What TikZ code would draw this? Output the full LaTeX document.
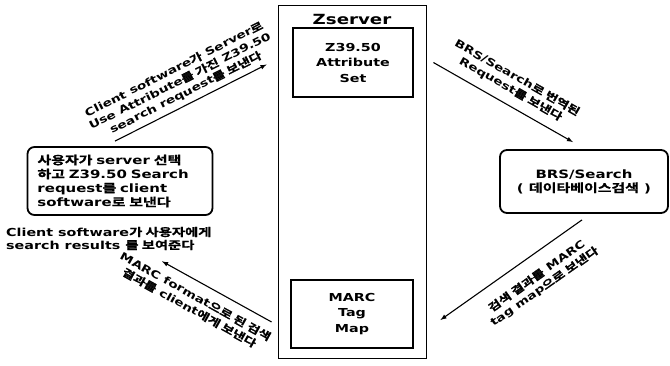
\documentclass[tikz,border=0pt]{standalone}
\usepackage{fontspec}
\setmainfont{DejaVu Sans}[FakeStretch=1.3]
\newfontfamily\krfont{Noto Sans CJK KR}[BoldFont={Noto Sans CJK KR Bold}, BoldFeatures={FakeBold=1.2}, FakeStretch=1.3]
\newcommand{\kr}[1]{{\krfont #1}}
\usetikzlibrary{arrows,calc}

\begin{document}
\begin{tikzpicture}[x=1pt, y=1pt,
    cadre/.style={draw, line width=1.5pt, align=center, inner sep=0pt, font=\bfseries\fontsize{11}{15.5}\selectfont},
    boite/.style={draw, line width=1.8pt, rounded corners=7pt, font=\bfseries\fontsize{11.5}{14}\selectfont},
    fleche/.style={-latex, line width=1.1pt},
    legende/.style={sloped, align=center, inner sep=1pt, font=\bfseries\fontsize{10.5}{13}\selectfont}]
    \useasboundingbox (0,0) rectangle (670,365);
    % Zserver
    \node[draw, line width=0.8pt, minimum width=148pt, minimum height=353pt] at (352,183.5) (zserver) {};
    \node[font=\bfseries\fontsize{14}{16}\selectfont] at (352,346) (titre) {Zserver};
    \node[cadre, minimum width=120pt, minimum height=69pt] at (353,302.5) (attribut) {Z39.50\\Attribute\\Set};
    \node[cadre, minimum width=122pt, minimum height=68pt] at (352,51) (tagmap) {MARC\\Tag\\Map};
    % Client et BRS/Search
    \node[boite, text width=165pt, inner xsep=10pt, minimum height=68pt, align=left] at (120,184) (client)
        {\kr{사용자가} server \kr{선택}\\\kr{하고} Z39.50 Search\\request\kr{를} client\\software\kr{로 보낸다}};
    \node[boite, minimum width=168pt, minimum height=63pt, align=center] at (584,183.5) (brs)
        {BRS/Search\\( \kr{데이타베이스검색} )};
    \node[font=\bfseries\fontsize{11}{13}\selectfont, align=left, anchor=west, inner sep=0pt] at (6,126.5) (resultat)
        {Client software\kr{가 사용자에게}\\search results \kr{를 보여준다}};
    \coordinate (retour) at ($(resultat.south west)+(156,-11)$);
    % Fleches
    \draw[fleche] ($(client.north)+(-5,5)$) -- ($(zserver.west |- attribut)+(-11,-2)$)
        node[legende, midway, above=4pt] (requete) {Client software\kr{가} Server\kr{로}\\Use Attribute\kr{를 가진} Z39.50\\search request\kr{를 보낸다}};
    \draw[fleche] ($(zserver.east |- attribut)+(7,0)$) -- ($(brs.north)+(-11,7)$)
        node[legende, pos=0.5, above=8pt] (traduction) {BRS/Search\kr{로 번역된}\\Request\kr{를 보낸다}};
    \draw[fleche] ($(brs.south)+(-2,-6)$) -- ($(zserver.east |- tagmap)+(14,-6)$)
        node[legende, pos=0.4, below=13pt] (resultats) {\kr{검색 결과를} MARC\\tag map\kr{으로 보낸다}};
    \draw[fleche] ($(zserver.west |- tagmap)+(-6,-8)$) -- (retour)
        node[legende, pos=0.63, below=8pt] (format) {MARC format\kr{으로 된 검색}\\\kr{결과를} client\kr{에게 보낸다}};
\end{tikzpicture}
\end{document}
